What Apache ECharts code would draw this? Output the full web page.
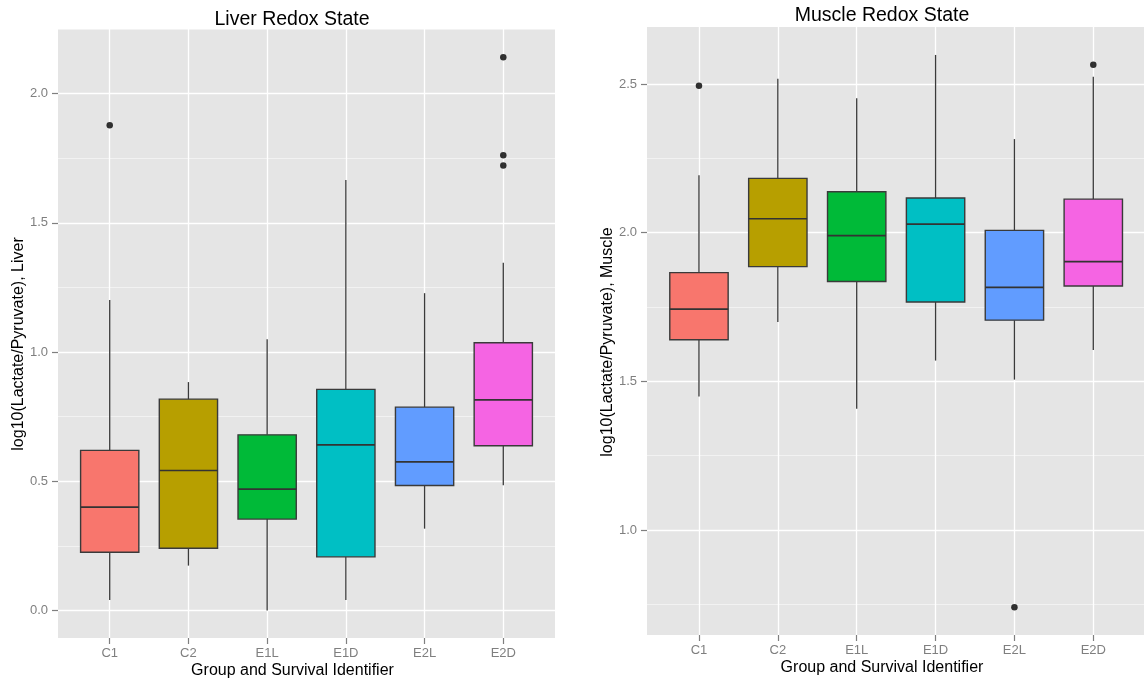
<!DOCTYPE html>
<html>
<head>
<meta charset="utf-8">
<title>Liver and Muscle Redox State</title>
<script src="https://cdn.jsdelivr.net/npm/echarts@6/dist/echarts.min.js"></script>
<style>
  html, body { margin: 0; padding: 0; background: #fff; }
  #chart { width: 1144px; height: 681px; }
</style>
</head>
<body>
<div id="chart"></div>
<script>
const groups = ['C1', 'C2', 'E1L', 'E1D', 'E2L', 'E2D'];
const groupColors = ['#F8766D', '#B79F00', '#00BA38', '#00BFC4', '#619CFF', '#F564E3'];

// [lower whisker, Q1, median, Q3, upper whisker]
const liverBoxes = [
  [0.041, 0.226, 0.400, 0.620, 1.202],
  [0.174, 0.241, 0.542, 0.818, 0.884],
  [0.000, 0.354, 0.470, 0.680, 1.050],
  [0.041, 0.208, 0.641, 0.856, 1.666],
  [0.317, 0.484, 0.575, 0.787, 1.228],
  [0.485, 0.638, 0.815, 1.036, 1.346]
];
const liverOutliers = [['C1', 1.878], ['E2D', 2.141], ['E2D', 1.762], ['E2D', 1.722]];
const liverTicks = [0, 0.5, 1, 1.5, 2];
const liverMinorTicks = [0.25, 0.75, 1.25, 1.75, 2.25];

const muscleBoxes = [
  [1.449, 1.640, 1.743, 1.866, 2.193],
  [1.700, 1.886, 2.047, 2.183, 2.518],
  [1.408, 1.836, 1.990, 2.138, 2.452],
  [1.570, 1.767, 2.029, 2.117, 2.598],
  [1.506, 1.706, 1.816, 2.008, 2.315],
  [1.606, 1.821, 1.903, 2.113, 2.525]
];
const muscleOutliers = [['C1', 2.494], ['E2L', 0.740], ['E2D', 2.565]];
const muscleTicks = [1, 1.5, 2, 2.5];
const muscleMinorTicks = [0.75, 1.25, 1.75, 2.25];

const FONT = '"Liberation Sans", Arial, sans-serif';
const TICK_GREY = '#7f7f7f';
const groupPos = groups.map((g, i) => i + 1);

function renderBox(params, api) {
  const x = api.value(0);
  const lo = api.coord([x, api.value(1)]);
  const q1 = api.coord([x, api.value(2)]);
  const md = api.coord([x, api.value(3)]);
  const q3 = api.coord([x, api.value(4)]);
  const hi = api.coord([x, api.value(5)]);
  const half = api.size([1, 0])[0] * 0.37;
  const cx = lo[0];
  const line = { stroke: '#3a3a3a', lineWidth: 1.3 };
  return {
    type: 'group',
    children: [
      { type: 'line', shape: { x1: cx, y1: hi[1], x2: cx, y2: q3[1] }, style: line },
      { type: 'line', shape: { x1: cx, y1: q1[1], x2: cx, y2: lo[1] }, style: line },
      { type: 'rect', shape: { x: cx - half, y: q3[1], width: half * 2, height: q1[1] - q3[1] },
        style: { fill: groupColors[params.dataIndex], stroke: '#3a3a3a', lineWidth: 1.4 } },
      { type: 'line', shape: { x1: cx - half, y1: md[1], x2: cx + half, y2: md[1] },
        style: { stroke: '#333', lineWidth: 1.7 } }
    ]
  };
}

function panel(idx, boxes, outliers, ticks, minorTicks, yRange, xRange) {
  const xAxis = {
    type: 'value', gridIndex: idx, position: 'bottom', min: xRange[0], max: xRange[1],
    axisLine: { show: true, onZero: false, lineStyle: { color: 'rgba(0,0,0,0)' } },
    axisTick: { show: true, length: 6, customValues: groupPos, lineStyle: { color: TICK_GREY, width: 1.2 } },
    axisLabel: { customValues: groupPos, color: TICK_GREY, fontSize: 13, fontFamily: FONT, margin: 9,
      formatter: v => groups[Math.round(v) - 1] },
    splitLine: { show: true, lineStyle: { color: '#fff', width: 1.3 } }
  };
  const yMinor = {
    type: 'value', gridIndex: idx, position: 'left', min: yRange[0], max: yRange[1],
    axisLine: { show: false, onZero: false },
    axisTick: { show: false, customValues: minorTicks },
    axisLabel: { show: false },
    splitLine: { show: true, lineStyle: { color: '#f2f2f2', width: 1 } }
  };
  const yMajor = {
    type: 'value', gridIndex: idx, position: 'left', min: yRange[0], max: yRange[1],
    axisLine: { show: true, onZero: false, lineStyle: { color: 'rgba(0,0,0,0)' } },
    axisTick: { show: true, length: 6, customValues: ticks, lineStyle: { color: TICK_GREY, width: 1.2 } },
    axisLabel: { customValues: ticks, color: TICK_GREY, fontSize: 13, fontFamily: FONT, margin: 10,
      formatter: v => v.toFixed(1) },
    splitLine: { show: true, lineStyle: { color: '#fff', width: 1.3 } }
  };
  const series = [
    {
      type: 'custom', xAxisIndex: idx, yAxisIndex: idx * 2 + 1,
      renderItem: renderBox,
      encode: { x: 0, y: [1, 2, 3, 4, 5] },
      data: boxes.map((b, i) => [i + 1].concat(b))
    },
    {
      type: 'scatter', xAxisIndex: idx, yAxisIndex: idx * 2 + 1,
      symbolSize: 6.5, itemStyle: { color: '#000' },
      data: outliers.map(o => [groups.indexOf(o[0]) + 1, o[1]])
    }
  ];
  return { xAxis, yAxes: [yMinor, yMajor], series };
}

const liver = panel(0, liverBoxes, liverOutliers, liverTicks, liverMinorTicks, [-0.106, 2.25], [0.343, 6.657]);
const muscle = panel(1, muscleBoxes, muscleOutliers, muscleTicks, muscleMinorTicks, [0.647, 2.692], [0.341, 6.643]);

function label(text, x, y, size, rotate) {
  return {
    type: 'text', x: x, y: y, rotation: rotate ? Math.PI / 2 : 0, silent: true,
    style: { text: text, font: size + 'px ' + FONT, fill: '#000', textAlign: 'center', textVerticalAlign: 'middle' }
  };
}

const chart = echarts.init(document.getElementById('chart'));
chart.setOption({
  animation: false,
  backgroundColor: '#fff',
  grid: [
    { left: 58, top: 29, width: 497, height: 609, show: true, backgroundColor: '#E5E5E5', borderWidth: 0,
      containLabel: false, outerBoundsMode: 'none' },
    { left: 647, top: 27, width: 497, height: 608, show: true, backgroundColor: '#E5E5E5', borderWidth: 0,
      containLabel: false, outerBoundsMode: 'none' }
  ],
  xAxis: [liver.xAxis, muscle.xAxis],
  yAxis: liver.yAxes.concat(muscle.yAxes),
  series: liver.series.concat(muscle.series),
  graphic: [
    label('Liver Redox State', 292, 19.5, 19.5),
    label('Muscle Redox State', 882, 16, 19.5),
    label('Group and Survival Identifier', 292.5, 671, 16),
    label('Group and Survival Identifier', 882, 668, 16),
    label('log10(Lactate/Pyruvate), Liver', 19, 344, 16, true),
    label('log10(Lactate/Pyruvate), Muscle', 608, 342, 16, true)
  ]
});
</script>
</body>
</html>
